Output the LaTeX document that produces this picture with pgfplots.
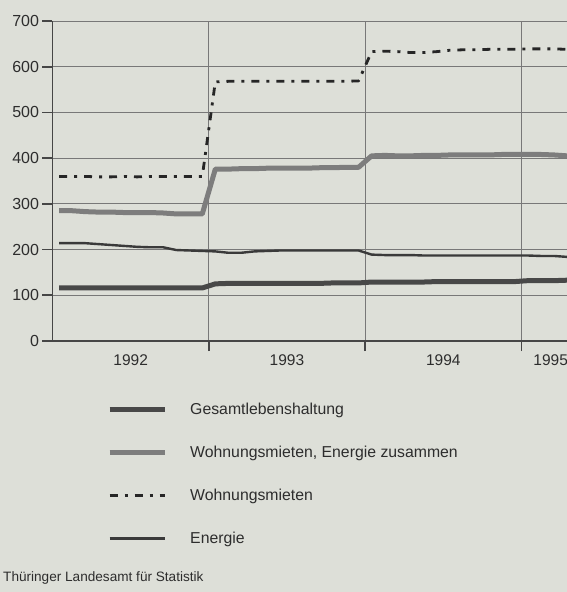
\documentclass[border=0pt]{standalone}
\usepackage{pgfplots}
\usepackage{pgfplotstable}
\pgfplotsset{compat=1.18}
\usepackage{fontspec}
\setmainfont{Liberation Sans}
\definecolor{bg}{RGB}{221,223,216}
\definecolor{txt}{RGB}{45,45,45}
\definecolor{cG}{RGB}{72,72,72}
\definecolor{cWE}{RGB}{125,125,125}
\definecolor{cW}{RGB}{38,38,38}
\definecolor{cE}{RGB}{58,58,58}
\definecolor{gridc}{RGB}{120,120,120}
\definecolor{axc}{RGB}{70,70,70}

\pgfplotstableread{
m G WE W E
0.5 116 285 360 214
1.5 116 285 360 214
2.5 116 283 360 214
3.5 116 282 359 212
4.5 116 282 359 210
5.5 116 281 360 208
6.5 116 281 359 206
7.5 116 281 360 205
8.5 116 280 360 205
9.5 116 278 360 199
10.5 116 278 360 198
11.5 116 278 360 197
12.5 125 376 567 196
13.5 126 376 568 193
14.5 126 377 568 193
15.5 126 377 568 196
16.5 126 378 568 197
17.5 126 378 568 198
18.5 126 378 568 198
19.5 126 378 568 198
20.5 126 379 568 198
21.5 127 379 568 198
22.5 127 380 568 198
23.5 127 380 569 198
24.5 129 405 633 189
25.5 129 406 634 188
26.5 129 405 633 188
27.5 129 405 631 188
28.5 129 406 631 187
29.5 130 406 633 187
30.5 130 407 636 187
31.5 130 407 637 187
32.5 130 407 637 187
33.5 130 407 638 187
34.5 130 408 638 187
35.5 130 408 638 187
36.5 132 408 639 187
37.5 132 408 639 186
38.5 132 407 639 186
39.5 133 405 638 184
}\data

\begin{document}
\begin{tikzpicture}[x=1pt,y=1pt]
\useasboundingbox (0,0) rectangle (567,592);
\fill[bg] (0,0) rectangle (567,592);
\begin{axis}[
  at={(52.5pt,251pt)}, anchor=south west,
  scale only axis, width=514.5pt, height=320pt,
  xmin=0, xmax=39.5, ymin=0, ymax=700,
  axis lines=left,
  axis line style={-, line width=1.8pt, color=axc},
  tick align=outside,
  major tick length=10pt,
  tick style={line width=1.6pt, color=axc},
  /pgf/number format/assume math mode=true,
  ytick={0,100,...,700},
  xtick={12,24,36},
  xticklabels={,,},
  extra x ticks={6,18,30,38.25},
  extra x tick labels={1992,1993,1994,1995},
  extra x tick style={grid=none, major tick length=0pt, xticklabel style={yshift=-10pt}},
  xmajorgrids, ymajorgrids,
  major grid style={gridc, line width=0.9pt},
  ticklabel style={font=\fontsize{15.5}{18}\selectfont, text=txt},
  yticklabel style={font=\fontsize{16}{18}\selectfont},
  legend style={draw=none, fill=none, inner sep=0pt,
    at={(0.106,-0.1875)}, anchor=north west,
    font=\fontsize{15.8}{18}\selectfont, text=txt,
    row sep=26pt,
    /tikz/every odd column/.append style={column sep=21pt}},
  legend cell align=left,
  legend image code/.code={\draw[#1, line cap=butt] (0pt,0pt) -- (55pt,0pt);},
  every axis plot/.append style={no marks, line join=round},
]
\addplot[cG, line width=5pt] table[x=m,y=G]{\data};
\addlegendentry{Gesamtlebenshaltung}
\addplot[cWE, line width=5pt] table[x=m,y=WE]{\data};
\addlegendentry{Wohnungsmieten, Energie zusammen}
\addplot[cW, line width=2.8pt, dash pattern=on 8pt off 7pt on 3pt off 7pt] table[x=m,y=W]{\data};
\addlegendentry{Wohnungsmieten}
\addplot[cE, line width=2.4pt] table[x=m,y=E]{\data};
\addlegendentry{Energie}
\end{axis}
\node[anchor=west, font=\fontsize{13.6}{15}\selectfont, text=txt, inner sep=0pt] at (3,14) {Thüringer Landesamt für Statistik};
\end{tikzpicture}
\end{document}
